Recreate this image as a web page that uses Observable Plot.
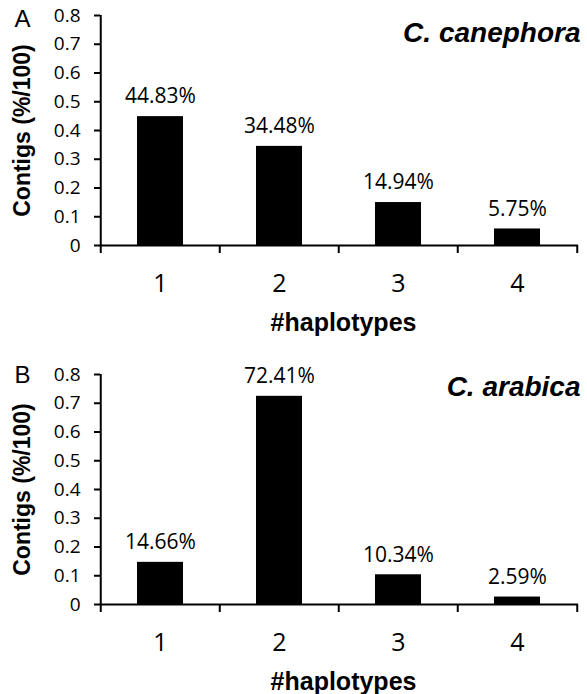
<!DOCTYPE html>
<html>
<head>
<meta charset="utf-8">
<script src="https://cdn.jsdelivr.net/npm/d3@7"></script>
<script src="https://cdn.jsdelivr.net/npm/@observablehq/plot@0.6"></script>
<style>
  html, body { margin: 0; padding: 0; background: white; }
  #chart svg { display: block; }
  #chart g[aria-label="y-axis tick"] path { stroke-width: 2; }
</style>
</head>
<body>
<div id="chart"></div>
<script>
const categories = [1, 2, 3, 4];
const canephora = [0.4483, 0.3448, 0.1494, 0.0575];
const arabica = [0.1466, 0.7241, 0.1034, 0.0259];
const canephoraLabels = ["44.83%", "34.48%", "14.94%", "5.75%"];
const arabicaLabels = ["14.66%", "72.41%", "10.34%", "2.59%"];
const yTicks = [0, 0.1, 0.2, 0.3, 0.4, 0.5, 0.6, 0.7, 0.8];
const yTitle = "Contigs (%/100)";
const xTitle = "#haplotypes";

const W = 587, H = 347, ML = 100, MR = 9;
const step = (W - ML - MR) / categories.length;
const sans = "'Liberation Sans', Arial, sans-serif";

function panel(values, labels, letter, species, mt, mb, letterDy, speciesDy) {
  const data = categories.map((c, i) => ({c, v: values[i], label: labels[i]}));
  return Plot.plot({
    width: W, height: H,
    marginLeft: ML, marginRight: MR, marginTop: mt, marginBottom: mb,
    style: {fontFamily: "'Open Sans', sans-serif", fontSize: "19px", color: "black", background: "white", overflow: "visible"},
    x: {domain: categories, paddingInner: 0.61, paddingOuter: 0.305, axis: null},
    y: {domain: [0, 0.8], ticks: yTicks, tickFormat: d => String(d), tickSize: 6, tickPadding: 14, label: null},
    marks: [
      Plot.barY(data, {x: "c", y: "v", fill: "black"}),
      Plot.ruleY([0], {stroke: "black", strokeWidth: 2}),
      Plot.ruleX([categories[0]], {y1: 0, y2: 0.8, dx: -step / 2, stroke: "black", strokeWidth: 2}),
      Plot.ruleX(categories, {x: d => d, y1: 0, y2: 0, insetBottom: -8, dx: -step / 2, stroke: "black", strokeWidth: 2}),
      Plot.ruleX([categories[categories.length - 1]], {y1: 0, y2: 0, insetBottom: -8, dx: step / 2, stroke: "black", strokeWidth: 2}),
      Plot.text(data, {x: "c", y: "v", text: "label", dy: -20, fontSize: 21, fill: "black"}),
      Plot.text(categories, {x: d => d, text: d => String(d), frameAnchor: "bottom", lineAnchor: "middle", dy: 38, fontSize: 25, fill: "black"}),
      Plot.text([xTitle], {frameAnchor: "bottom", textAnchor: "middle", lineAnchor: "middle", dy: 77, dx: 4, fontFamily: sans, fontWeight: "bold", fontSize: 25, fill: "black"}),
      Plot.text([yTitle], {frameAnchor: "left", textAnchor: "middle", lineAnchor: "middle", dx: -78, rotate: -90, fontFamily: sans, fontWeight: "bold", fontSize: 23, fill: "black"}),
      Plot.text([species], {frameAnchor: "top-right", textAnchor: "end", lineAnchor: "middle", dx: 2, dy: speciesDy, fontFamily: sans, fontStyle: "italic", fontWeight: "bold", fontSize: 28, fill: "black"}),
      Plot.text([letter], {frameAnchor: "top-left", textAnchor: "start", lineAnchor: "middle", dx: -86, dy: letterDy, fontFamily: sans, fontSize: 24, fill: "black"})
    ]
  });
}

const chart = document.getElementById("chart");
chart.append(panel(canephora, canephoraLabels, "A", "C. canephora", 15, 102, 4, 18));
chart.append(panel(arabica, arabicaLabels, "B", "C. arabica", 27, 90, 0.5, 13));
</script>
</body>
</html>
